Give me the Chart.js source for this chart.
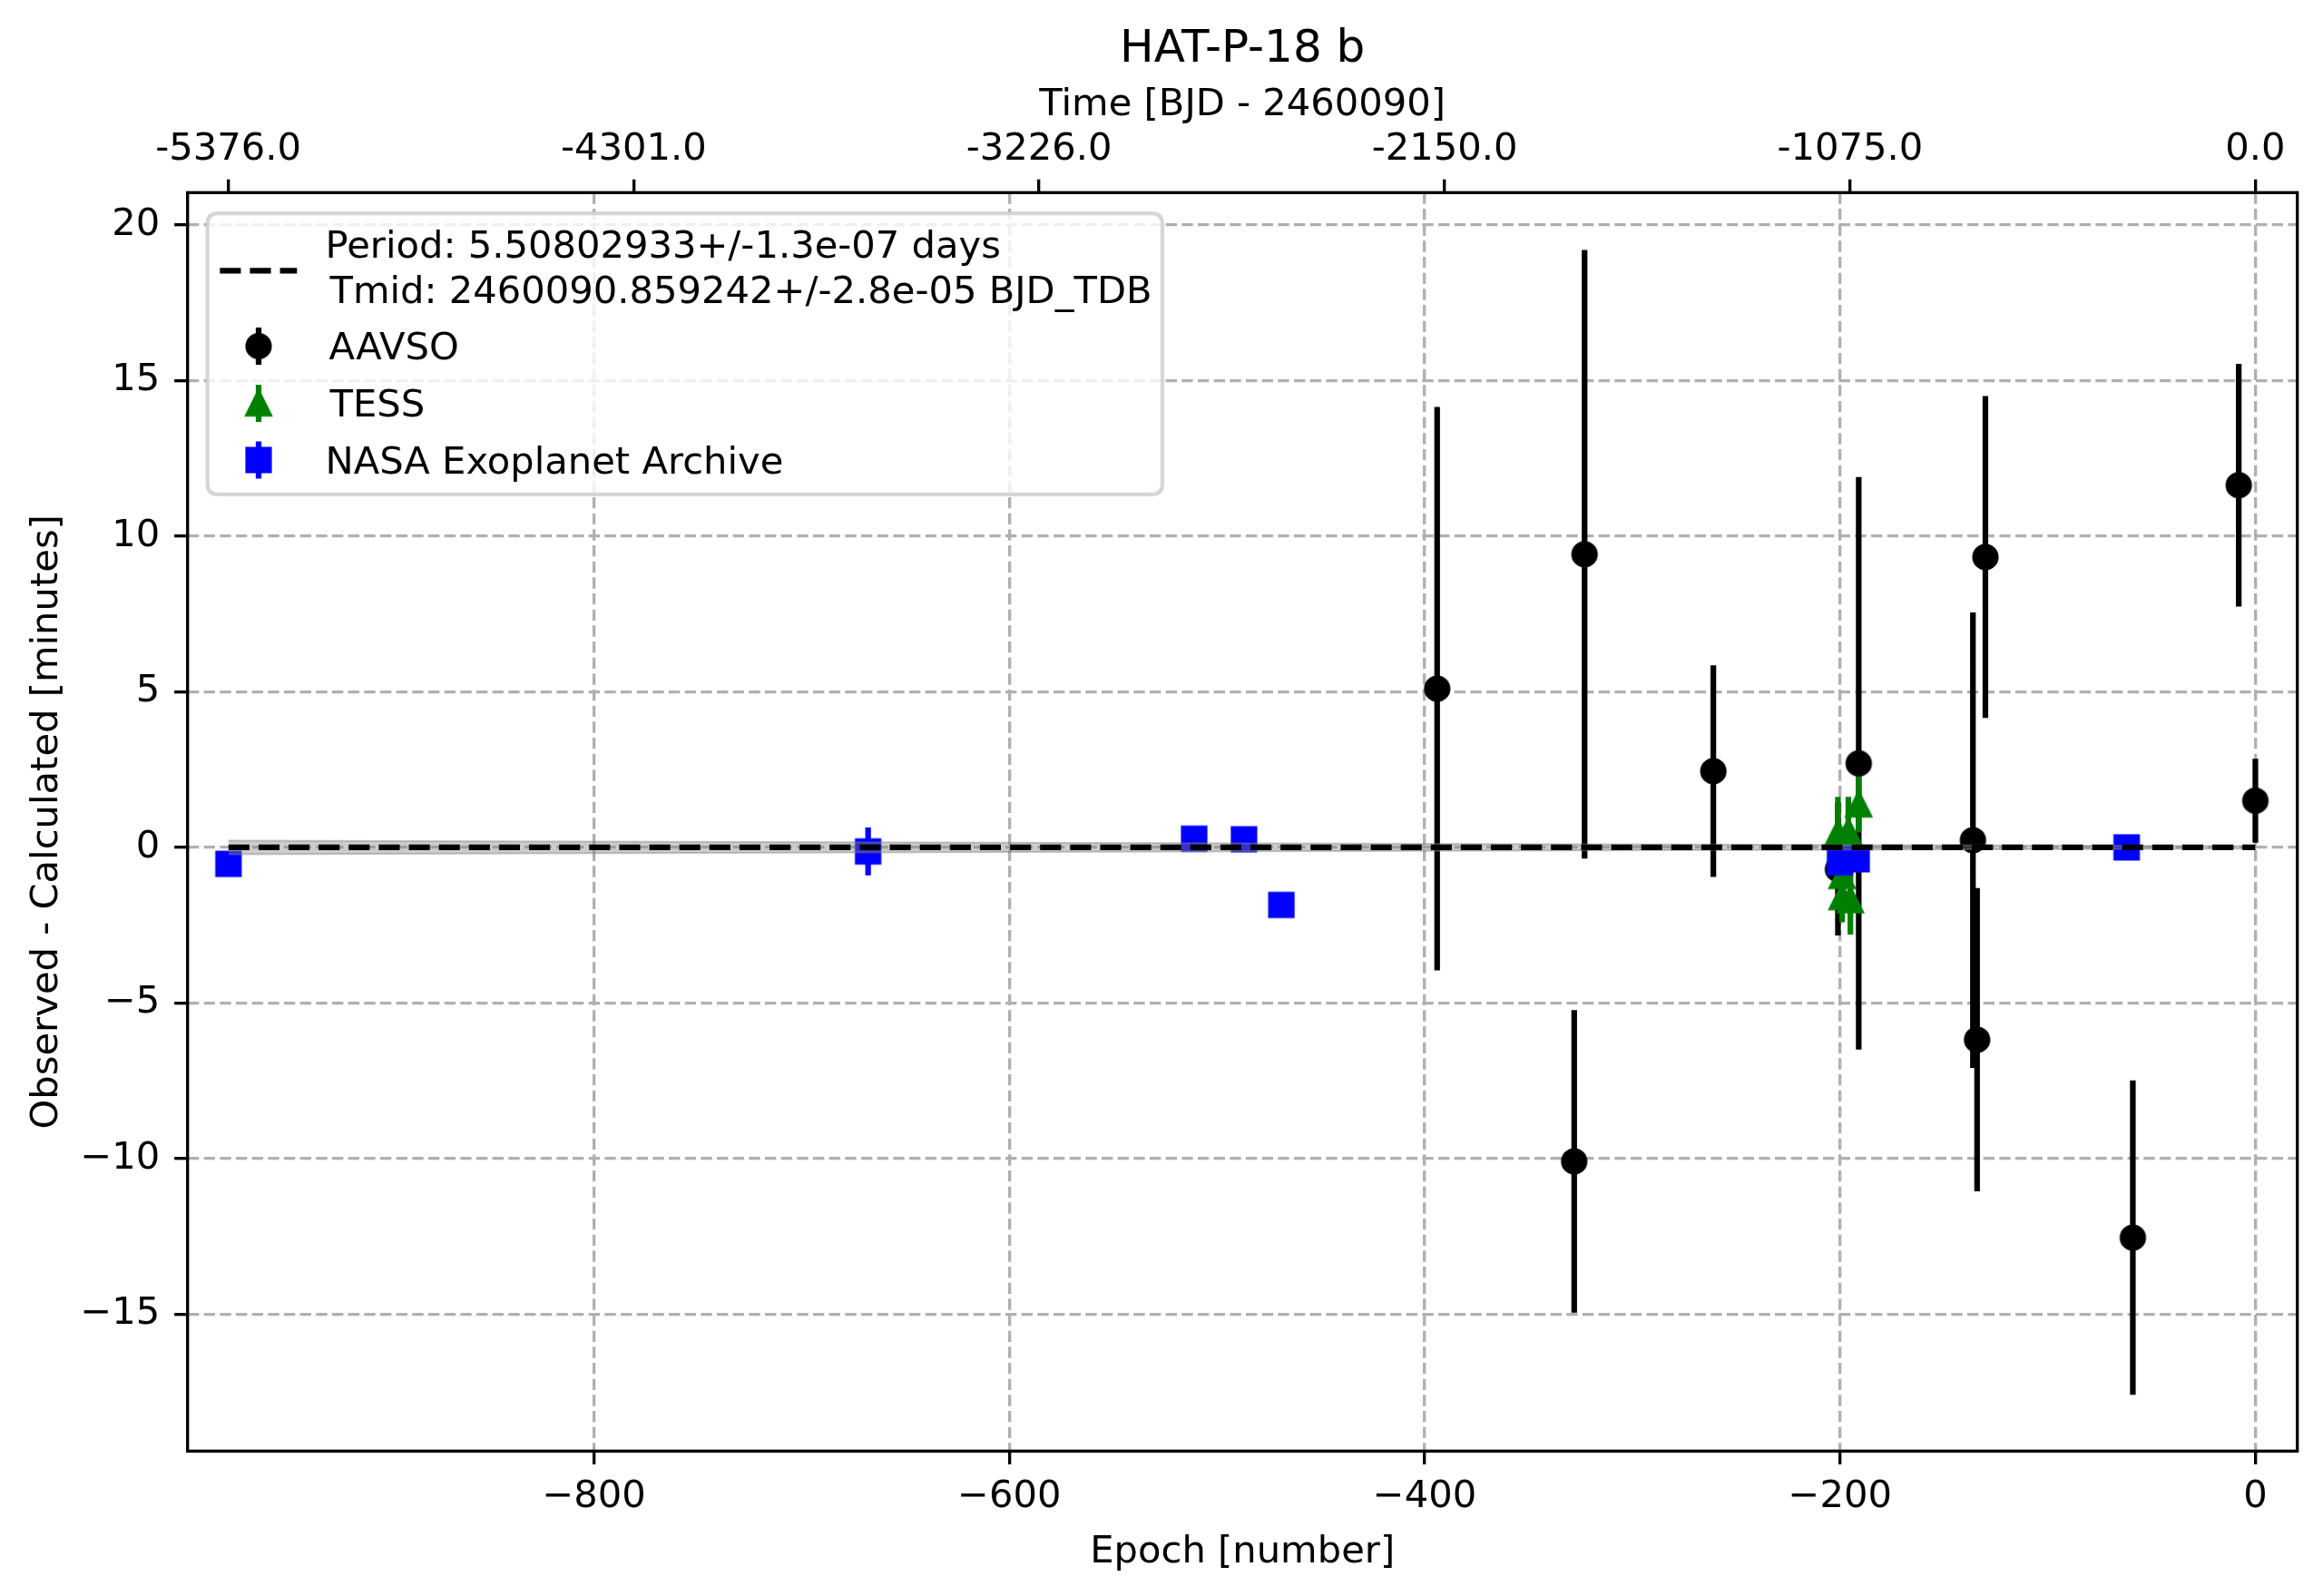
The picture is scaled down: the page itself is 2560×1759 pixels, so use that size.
<!DOCTYPE html>
<html>
<head>
<meta charset="utf-8">
<script src="https://cdn.jsdelivr.net/npm/chart.js@4.4.1/dist/chart.umd.min.js"></script>
<style>
html,body{margin:0;padding:0;background:#ffffff;}
#wrap{width:2560px;height:1759px;position:relative;}
</style>
</head>
<body>
<div id="wrap"><canvas id="c"></canvas></div>
<script>
// ---------- text ----------
const titleText = 'HAT-P-18 b';
const topAxisTitle = 'Time [BJD - 2460090]';
const xAxisTitle = 'Epoch [number]';
const yAxisTitle = 'Observed - Calculated [minutes]';
const legendFitLines = ['Period: 5.50802933+/-1.3e-07 days', 'Tmid: 2460090.859242+/-2.8e-05 BJD_TDB'];
const seriesNames = ['AAVSO', 'TESS', 'NASA Exoplanet Archive'];

// ---------- axes ----------
const period = 5.50802933;
const epochTicks = [-800, -600, -400, -200, 0];
const ocTicks = [-15, -10, -5, 0, 5, 10, 15, 20];
const timeTicks = [-5376.0, -4301.0, -3226.0, -2150.0, -1075.0, 0.0];
const epochRange = [-995.7, 20.2];
const ocRange = [-19.4, 21.04];

// ---------- data ----------
const aavsoEpoch = [-394, -328, -323, -261, -201, -191, -136, -134, -130, -59, -8, 0];
const aavsoOC    = [5.10, -10.09, 9.42, 2.45, -0.70, 2.70, 0.23, -6.18, 9.33, -12.54, 11.64, 1.50];
const aavsoErr   = [9.05, 4.86, 9.78, 3.40, 2.13, 9.20, 7.32, 4.87, 5.17, 5.05, 3.90, 1.35];

const tessEpoch = [-201, -199, -199, -196, -195, -191];
const tessOC    = [0.45, -0.92, -1.60, 0.50, -1.70, 1.38];
const tessErr   = [1.17, 1.00, 0.81, 1.12, 1.10, 0.90];

const nasaEpoch = [-976, -668, -511, -487, -469, -200, -192, -62];
const nasaOC    = [-0.53, -0.13, 0.28, 0.26, -1.85, -0.48, -0.38, 0.00];
const nasaErr   = [0.20, 0.77, 0.20, 0.20, 0.20, 0.30, 0.30, 0.20];

const fitEpoch = [-976, 0];
const fitOC = [0, 0];
const bandEpoch = [-976, -600, 0];
const bandHalf = [0.22, 0.15, 0.04];

// ---------- style ----------
const PT = 300 / 72;
const FS = 10 * PT;
const LW = 1.5 * PT;
const FONT = "'DejaVu Sans'";
const colAAVSO = '#000000', colTESS = '#008000', colNASA = '#0000ff';

Chart.defaults.font.family = FONT;
Chart.defaults.font.size = FS;
Chart.defaults.color = '#000000';

// distance from the 'middle' baseline to the alphabetic baseline for the tick font
const mctx = document.createElement('canvas').getContext('2d');
mctx.font = FS + 'px ' + FONT;
mctx.textBaseline = 'alphabetic';
const ascA = mctx.measureText('H').actualBoundingBoxAscent;
mctx.textBaseline = 'middle';
const ascM = mctx.measureText('H').actualBoundingBoxAscent;
let D = ascA - ascM;
if (!isFinite(D) || D < 5 || D > 30) D = 14.4;
const HL = FS * 1.2 / 2;   // half line height used by Chart.js
const TL = 3.5 * PT;       // tick length

// layout (pixels)
const areaLeft = 206.7, areaRight = 2531.7, areaTop = 212.3, areaBottom = 1599.3;
const padBottomTicks = (1660.7 - D) - areaBottom - TL - HL;
const padBottomTitle = 1759 - HL - (1721.7 - D);
const padTopTicks = areaTop - TL - HL - (175.7 - D);
const padTopTitle = (126.7 - D) - HL;
const padYTitle = (63.3 - D) - HL;

function makeMarker(kind, color) {
  const c = document.createElement('canvas');
  c.width = 48; c.height = 48;
  const g = c.getContext('2d');
  g.translate(24, 24);
  g.fillStyle = color; g.strokeStyle = color;
  g.lineWidth = 1 * PT; g.lineJoin = 'miter';
  const h = 3 * PT;
  g.beginPath();
  if (kind === 'circle') g.arc(0, 0, h, 0, Math.PI * 2);
  else if (kind === 'square') g.rect(-h, -h, 2 * h, 2 * h);
  else { g.moveTo(0, -h); g.lineTo(-h, h); g.lineTo(h, h); g.closePath(); }
  g.fill(); g.stroke();
  return c;
}
const mkAAVSO = makeMarker('circle', colAAVSO);
const mkTESS = makeMarker('triangle', colTESS);
const mkNASA = makeMarker('square', colNASA);

function pts(ep, oc) { return ep.map((e, i) => ({x: e, y: oc[i]})); }
function errSegments(ep, oc, er) {
  const out = [];
  ep.forEach((e, i) => { out.push({x: e, y: oc[i] - er[i]}, {x: e, y: oc[i] + er[i]}, {x: e, y: null}); });
  return out;
}
function minusFmt(v) { return v < 0 ? '\u2212' + Math.abs(v) : String(v); }

function errDS(ep, oc, er, color, order) {
  return {type: 'line', data: errSegments(ep, oc, er), borderColor: color, borderWidth: LW,
    borderCapStyle: 'butt', pointRadius: 0, spanGaps: false, fill: false, tension: 0, order: order};
}
function markDS(ep, oc, style, order) {
  return {type: 'scatter', data: pts(ep, oc), pointStyle: style, pointRadius: 14.6, order: order};
}

const gridCommon = {color: '#b0b0b0', lineWidth: 0.8 * PT, tickColor: '#000000', tickWidth: 0.8 * PT,
  tickLength: TL, tickBorderDash: []};

const decor = {
  id: 'decor',
  afterDatasetsDraw(chart) {
    const {ctx, chartArea: a} = chart;
    ctx.save();
    ctx.strokeStyle = '#000000';
    ctx.lineWidth = 0.8 * PT;
    ctx.strokeRect(a.left, a.top, a.right - a.left, a.bottom - a.top);
    ctx.restore();
  },
  afterDraw(chart) {
    const {ctx, chartArea: a} = chart;
    ctx.save();
    // title
    ctx.fillStyle = '#000000';
    ctx.font = (12 * PT) + 'px ' + FONT;
    ctx.textAlign = 'center';
    ctx.textBaseline = 'alphabetic';
    ctx.fillText(titleText, (a.left + a.right) / 2, 68.3);

    // legend frame
    const lx = 228.6, ly = 235.1, lw = 1052.4, lh = 309.8, r = 12;
    ctx.beginPath();
    ctx.moveTo(lx + r, ly);
    ctx.lineTo(lx + lw - r, ly); ctx.quadraticCurveTo(lx + lw, ly, lx + lw, ly + r);
    ctx.lineTo(lx + lw, ly + lh - r); ctx.quadraticCurveTo(lx + lw, ly + lh, lx + lw - r, ly + lh);
    ctx.lineTo(lx + r, ly + lh); ctx.quadraticCurveTo(lx, ly + lh, lx, ly + lh - r);
    ctx.lineTo(lx, ly + r); ctx.quadraticCurveTo(lx, ly, lx + r, ly);
    ctx.closePath();
    ctx.fillStyle = 'rgba(255,255,255,0.8)';
    ctx.fill();
    ctx.strokeStyle = 'rgba(204,204,204,0.8)';
    ctx.lineWidth = 1 * PT;
    ctx.stroke();

    // fit line sample
    ctx.beginPath();
    ctx.setLineDash([3.7 * LW, 1.6 * LW]);
    ctx.strokeStyle = '#000000';
    ctx.lineWidth = LW;
    ctx.lineCap = 'butt';
    ctx.moveTo(242.3, 298.3); ctx.lineTo(327.3, 298.3);
    ctx.stroke();
    ctx.setLineDash([]);

    // marker samples
    const mx = 285;
    const rows = [
      {mk: mkAAVSO, col: colAAVSO, y: 381.5},
      {mk: mkTESS, col: colTESS, y: 444.6},
      {mk: mkNASA, col: colNASA, y: 507.0}
    ];
    rows.forEach(rw => {
      ctx.beginPath();
      ctx.strokeStyle = rw.col; ctx.lineWidth = LW;
      ctx.moveTo(mx, rw.y - 20.5); ctx.lineTo(mx, rw.y + 20.5);
      ctx.stroke();
      ctx.drawImage(rw.mk, mx - 24, rw.y - 24);
    });

    // texts (alphabetic baselines)
    ctx.font = FS + 'px ' + FONT;
    ctx.textAlign = 'left';
    ctx.textBaseline = 'alphabetic';
    ctx.fillStyle = '#000000';
    const tx = 362.5;
    const texts = [
      [legendFitLines[0], 283.6],
      [legendFitLines[1], 333.6],
      [seriesNames[0], 396.4],
      [seriesNames[1], 459.2],
      [seriesNames[2], 521.9]
    ];
    texts.forEach(t => {
      const m = ctx.measureText(t[0]);
      ctx.fillText(t[0], tx + (m.actualBoundingBoxLeft || 0), t[1]);
    });
    ctx.restore();
  }
};

new Chart(document.getElementById('c'), {
  type: 'scatter',
  data: {
    datasets: [
      {type: 'line', data: pts(fitEpoch, fitOC), borderColor: '#000000', borderWidth: LW,
        borderDash: [3.7 * LW, 1.6 * LW], pointRadius: 0, fill: false, order: 0},
      {type: 'line', data: pts(bandEpoch, bandHalf), borderColor: 'rgba(128,128,128,0.45)', borderWidth: 2,
        backgroundColor: 'rgba(128,128,128,0.4)', fill: '+1', pointRadius: 0, order: 1},
      {type: 'line', data: pts(bandEpoch, bandHalf.map(v => -v)), borderColor: 'rgba(128,128,128,0.45)', borderWidth: 2,
        fill: false, pointRadius: 0, order: 1},
      markDS(nasaEpoch, nasaOC, mkNASA, 2),
      errDS(nasaEpoch, nasaOC, nasaErr, colNASA, 3),
      markDS(tessEpoch, tessOC, mkTESS, 4),
      errDS(tessEpoch, tessOC, tessErr, colTESS, 5),
      markDS(aavsoEpoch, aavsoOC, mkAAVSO, 6),
      errDS(aavsoEpoch, aavsoOC, aavsoErr, colAAVSO, 7)
    ]
  },
  options: {
    responsive: true,
    maintainAspectRatio: false,
    devicePixelRatio: 1,
    animation: false,
    events: [],
    layout: {padding: {left: 0, right: 2560 - areaRight, top: 0, bottom: 0}},
    plugins: {legend: {display: false}, tooltip: {enabled: false}, title: {display: false}},
    scales: {
      x: {
        type: 'linear', position: 'bottom', min: epochRange[0], max: epochRange[1],
        afterBuildTicks: s => { s.ticks = epochTicks.map(v => ({value: v})); },
        afterFit: s => { s.height = 1759 - areaBottom; },
        ticks: {autoSkip: false, maxRotation: 0, padding: padBottomTicks, color: '#000000', callback: v => minusFmt(v)},
        grid: Object.assign({}, gridCommon, {drawOnChartArea: true, drawTicks: true}),
        border: {display: false, dash: [3.7 * 0.8 * PT, 1.6 * 0.8 * PT]},
        title: {display: true, text: xAxisTitle, color: '#000000', font: {size: FS}, padding: {top: 0, bottom: padBottomTitle}}
      },
      xTime: {
        type: 'linear', axis: 'x', position: 'top', min: epochRange[0] * period, max: epochRange[1] * period,
        afterBuildTicks: s => { s.ticks = timeTicks.map(v => ({value: v})); },
        afterFit: s => { s.height = areaTop; },
        ticks: {autoSkip: false, maxRotation: 0, padding: padTopTicks, color: '#000000', callback: v => Number(v).toFixed(1)},
        grid: Object.assign({}, gridCommon, {drawOnChartArea: false, drawTicks: true}),
        border: {display: false},
        title: {display: true, text: topAxisTitle, color: '#000000', font: {size: FS}, padding: {top: padTopTitle, bottom: 0}}
      },
      y: {
        type: 'linear', position: 'left', min: ocRange[0], max: ocRange[1],
        afterBuildTicks: s => { s.ticks = ocTicks.map(v => ({value: v})); },
        afterFit: s => { s.width = areaLeft; },
        ticks: {autoSkip: false, padding: 15.8, color: '#000000', callback: v => minusFmt(v)},
        grid: Object.assign({}, gridCommon, {drawOnChartArea: true, drawTicks: true}),
        border: {display: false, dash: [3.7 * 0.8 * PT, 1.6 * 0.8 * PT]},
        title: {display: true, text: yAxisTitle, color: '#000000', font: {size: FS}, padding: {top: padYTitle, bottom: 0}}
      }
    }
  },
  plugins: [decor]
});
</script>
</body>
</html>
